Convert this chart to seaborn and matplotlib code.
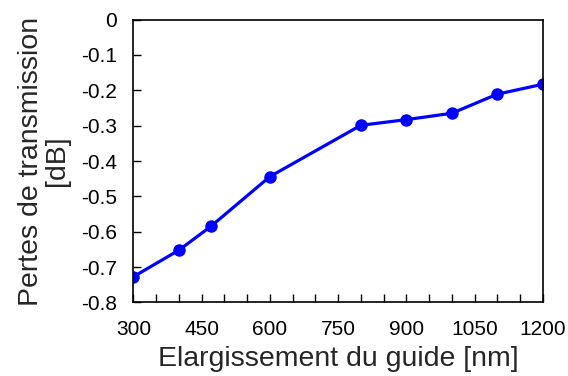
import matplotlib
matplotlib.use("Agg")
import matplotlib.pyplot as plt
from matplotlib.ticker import MultipleLocator
import seaborn as sns
import pandas as pd

# Data
widening_nm = [300, 400, 470, 600, 800, 900, 1000, 1100, 1200]
loss_db = [-0.727, -0.652, -0.585, -0.444, -0.299, -0.283, -0.265, -0.211, -0.183]

df = pd.DataFrame({"widening": widening_nm, "loss": loss_db})

sns.set_style("white")
plt.rcParams["font.family"] = ["Liberation Sans", "DejaVu Sans"]

fig = plt.figure(figsize=(5.68, 3.76), dpi=100)
ax = fig.add_axes([0.235, 0.1955, 0.7205, 0.7525])

sns.lineplot(data=df, x="widening", y="loss", ax=ax, color="#0000FF",
             linewidth=2.3, marker="o", markersize=9, markeredgewidth=0)

ax.set_xlim(300, 1200)
ax.set_ylim(-0.8, 0)
ax.xaxis.set_major_locator(MultipleLocator(150))
ax.xaxis.set_minor_locator(MultipleLocator(50))
ax.yaxis.set_major_locator(MultipleLocator(0.1))
ax.set_yticklabels([f"{v:g}" for v in ax.get_yticks()])

ax.tick_params(axis="both", which="both", direction="in", length=6, width=1,
               labelsize=15, colors="black")
ax.tick_params(axis="x", which="both", top=False, bottom=True, pad=12.5)
ax.tick_params(axis="y", which="both", left=True, right=False, pad=12)

for s in ax.spines.values():
    s.set_color("black")
    s.set_linewidth(1.2)

ax.set_xlabel("Elargissement du guide [nm]", fontsize=20.5, labelpad=5)
ax.set_ylabel("Pertes de transmission\n[dB]", fontsize=20.5, labelpad=8, linespacing=1.0)

fig.savefig("out.png", dpi=100)
